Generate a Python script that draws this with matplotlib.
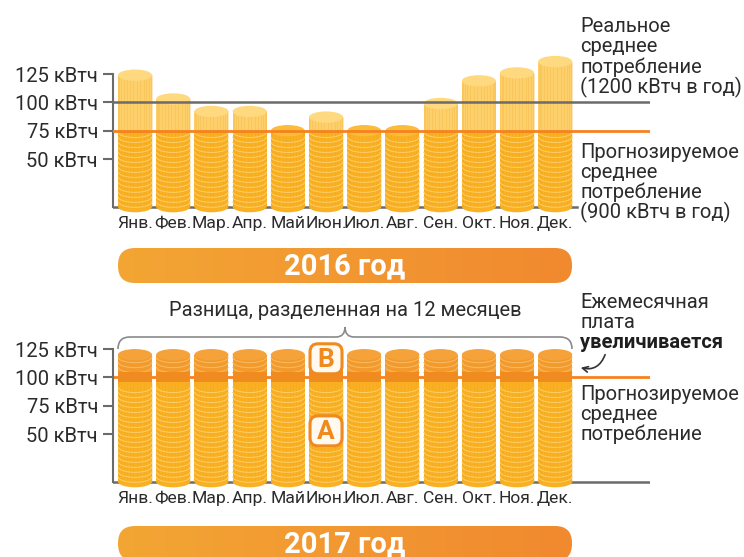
import numpy as np
import matplotlib
matplotlib.use('Agg')
import matplotlib.pyplot as plt
from matplotlib.patches import Ellipse, FancyBboxPatch, PathPatch
from matplotlib.path import Path

plt.rcParams['font.family'] = ['Roboto', 'DejaVu Sans']

# ---------------- data ----------------
months = ['Янв.', 'Фев.', 'Мар.', 'Апр.', 'Май', 'Июн.', 'Июл.', 'Авг.', 'Сен.', 'Окт.', 'Ноя.', 'Дек.']
usage_2016 = [124, 103, 92, 92, 75, 87, 75, 75, 99, 119, 126, 136]
forecast_2016 = 75        # 900 кВтч / 12
actual_avg_2016 = 100     # 1200 кВтч / 12
part_a_2017 = [96] * 12
part_b_2017 = [24] * 12
forecast_2017 = 100
yticks = [50, 75, 100, 125]
ytick_labels = ['50 кВтч', '75 кВтч', '100 кВтч', '125 кВтч']

# ---------------- style ----------------
W, H = 744, 557
FLOOR = 8
BAR_W = 0.89
ELL_H = 10.0
COIN = 4.4
GRAY = '#6b6b6b'
ORANGE = '#F5821F'
TXT = '#2b2b2b'
GOLD = '#F9B022'
GOLD_STRIPE = '#FCCD66'
LIGHT = '#FDD06B'
LIGHT_TOP = '#FED980'
BSIDE = '#F39A2C'
BSTRIPE = '#F8BA62'
BBAND = '#F08B20'
BTOP = '#F5A23A'

fig = plt.figure(figsize=(W / 100, H / 100), dpi=100)
fig.patch.set_facecolor('white')

def make_axes(px0_bottom, floor_xmax):
    # px0_bottom: pixel row of value 0 ; 1.1333 px per unit ; ylim 0..150
    top = px0_bottom - 150 * 1.1333
    ax = fig.add_axes([113 / W, 1 - px0_bottom / H, (650 - 113) / W, (px0_bottom - top) / H])
    ax.set_xlim(-0.576, 13.48)
    ax.set_ylim(0, 150)
    ax.patch.set_alpha(0)
    for s in ['top', 'right', 'bottom']:
        ax.spines[s].set_visible(False)
    ax.spines['left'].set_bounds(FLOOR, 125)
    ax.spines['left'].set_color(GRAY)
    ax.spines['left'].set_linewidth(1.5)
    ax.set_yticks(yticks, ytick_labels, fontsize=14.5, color=TXT)
    ax.tick_params(axis='y', length=7.2, width=1.5, color=GRAY, pad=3.6)
    ax.set_xticks(range(len(months)), months, fontsize=12.6, color=TXT)
    ax.tick_params(axis='x', length=0, pad=0.5)
    ax.axhline(FLOOR, xmax=floor_xmax, color=GRAY, lw=1.8, zorder=1)
    return ax

def stripes(ax, x, y0, y1, color, lw=0.75):
    t = np.linspace(-1, 1, 30)
    for v in np.arange(y0 + COIN, y1 - COIN * 0.4, COIN):
        ax.plot(x + t * BAR_W / 2, v - ELL_H / 2 * np.sqrt(1 - t ** 2), color=color, lw=lw, zorder=3, solid_capstyle='butt')

def ridges(ax, x, y0, y1, color, alpha=0.35):
    for ph in np.linspace(-np.pi / 2, np.pi / 2, 16)[1:-1]:
        xx = x + BAR_W / 2 * np.sin(ph)
        ax.plot([xx, xx], [y0, y1], color=color, lw=0.5, alpha=alpha, zorder=2.5)

# ---------------- top chart (2016) ----------------
ax1 = make_axes(215.7, (577 - 113) / (650 - 113))
xs = np.arange(len(months))
low = [min(v, forecast_2016) - FLOOR for v in usage_2016]
high = [max(v - forecast_2016, 0) for v in usage_2016]
ax1.bar(xs, low, bottom=FLOOR, width=BAR_W, color=GOLD, zorder=2)
ax1.bar(xs, high, bottom=forecast_2016, width=BAR_W, color=LIGHT, zorder=2)
for x, v in zip(xs, usage_2016):
    ax1.add_patch(Ellipse((x, FLOOR), BAR_W, ELL_H, fc=GOLD, ec='none', zorder=2))
    top_v = min(v, forecast_2016)
    stripes(ax1, x, FLOOR, top_v + (COIN if v > forecast_2016 else 0), GOLD_STRIPE)
    ridges(ax1, x, FLOOR, top_v, '#E89A10', 0.25)
    if v > forecast_2016:
        ridges(ax1, x, forecast_2016, v, '#F3B23A', 0.45)
        ax1.add_patch(Ellipse((x, v), BAR_W, ELL_H, fc=LIGHT_TOP, ec='none', zorder=3.5))
    else:
        ax1.add_patch(Ellipse((x, v), BAR_W, ELL_H, fc='#FBBC3A', ec='none', zorder=3.5))
ax1.axhline(actual_avg_2016, color=GRAY, lw=1.8, zorder=6)
ax1.axhline(forecast_2016, color=ORANGE, lw=2, zorder=6)

# ---------------- bottom chart (2017) ----------------
ax2 = make_axes(490.7, 1.0)
ax2.axhline(forecast_2017, color=ORANGE, lw=2, zorder=1)
ax2.bar(xs, [a - FLOOR for a in part_a_2017], bottom=FLOOR, width=BAR_W, color=GOLD, zorder=2)
ax2.bar(xs, part_b_2017, bottom=part_a_2017, width=BAR_W, color=BSIDE, zorder=2)
for x, a, b in zip(xs, part_a_2017, part_b_2017):
    ax2.add_patch(Ellipse((x, FLOOR), BAR_W, ELL_H, fc=GOLD, ec='none', zorder=2))
    stripes(ax2, x, FLOOR, a, GOLD_STRIPE)
    ridges(ax2, x, FLOOR, a, '#E89A10', 0.25)
    ax2.bar([x], [2 * COIN], bottom=a, width=BAR_W, color=BBAND, zorder=3.2)
    stripes(ax2, x, a + 2 * COIN - COIN, a + b, BSTRIPE)
    ax2.add_patch(Ellipse((x, a + b), BAR_W, ELL_H, fc=BTOP, ec='none', zorder=3.5))

# ---------------- overlay (texts, banners, brace) ----------------
ov = fig.add_axes([0, 0, 1, 1])
ov.set_xlim(0, W)
ov.set_ylim(H, 0)
ov.axis('off')
ov.patch.set_alpha(0)

fig.canvas.draw()
def to_px(ax, x, y):
    dx, dy = ax.transData.transform((x, y))
    return dx, H - dy

# A / B boxes
for lab, yv in [('B', part_a_2017[5] + part_b_2017[5] * 0.85), ('A', part_a_2017[5] * 0.55)]:
    cx, cy = to_px(ax2, 5, yv)
    ov.add_patch(FancyBboxPatch((cx - 16, cy - 15), 32, 30, boxstyle='round,pad=0,rounding_size=8',
                                fc='#FFF9F0', ec='#F08A1E', lw=2.2, zorder=10))
    ov.text(cx, cy + 1, lab, ha='center', va='center', fontsize=19, fontweight='bold', color='#F08A1E', zorder=11)

# gradient banners
grad = np.linspace(0, 1, 256).reshape(1, -1)
cmap = matplotlib.colors.LinearSegmentedColormap.from_list('ban', ['#F3A634', '#F1892F'])
for (y0, label) in [(248, '2016 год'), (526, '2017 год')]:
    patch = FancyBboxPatch((118, y0), 454, 35, boxstyle='round,pad=0,rounding_size=17', fc='none', ec='none')
    ov.add_patch(patch)
    im = ov.imshow(grad, cmap=cmap, extent=(118, 572, y0 + 35, y0), aspect='auto', zorder=2)
    im.set_clip_path(patch)
    ov.text(345, y0 + 18.5, label, ha='center', va='center', fontsize=21, fontweight='bold', color='white', zorder=3)

# brace
verts = [(118, 349), (118, 337), (130, 337), (336, 337), (345, 337), (345, 327),
         (345, 337), (354, 337), (560, 337), (572, 337), (572, 349)]
codes = [Path.MOVETO, Path.CURVE3, Path.CURVE3, Path.LINETO, Path.CURVE3, Path.CURVE3,
         Path.CURVE3, Path.CURVE3, Path.LINETO, Path.CURVE3, Path.CURVE3]
ov.add_patch(PathPatch(Path(verts, codes), fc='none', ec='#8a8a8a', lw=1.2, zorder=4))
ov.text(345, 311, 'Разница, разделенная на 12 месяцев', ha='center', va='center', fontsize=14.5, color=TXT)

# right-hand annotations
fs = 14.5
for y, s in zip([27, 47, 67, 87], ['Реальное', 'среднее', 'потребление', '(1200 кВтч в год)']):
    ov.text(580, y, s, ha='left', va='center', fontsize=fs, color=TXT)
for y, s in zip([152, 172, 192, 212], ['Прогнозируемое', 'среднее', 'потребление', '(900 кВтч в год)']):
    ov.text(580, y, s, ha='left', va='center', fontsize=fs, color=TXT)
ov.text(580, 303, 'Ежемесячная', ha='left', va='center', fontsize=fs, color=TXT)
ov.text(580, 322, 'плата', ha='left', va='center', fontsize=fs, color=TXT)
ov.text(580, 342, 'увеличивается', ha='left', va='center', fontsize=fs, color='#1e1e1e', fontweight='bold')
for y, s in zip([395, 415, 434], ['Прогнозируемое', 'среднее', 'потребление']):
    ov.text(580, y, s, ha='left', va='center', fontsize=fs, color=TXT)
ov.annotate('', xy=(578, 367), xytext=(606, 352),
            arrowprops=dict(arrowstyle='->', connectionstyle='arc3,rad=-0.5', color='#333333', lw=1.2))

fig.savefig('out.png', dpi=100, facecolor='white')
